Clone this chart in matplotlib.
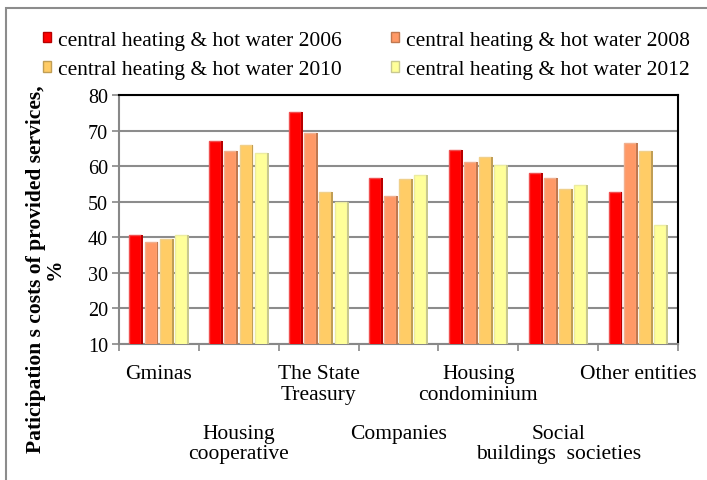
import numpy as np
import matplotlib.pyplot as plt
import matplotlib.transforms as mtransforms
from matplotlib.patches import Patch, Rectangle

plt.rcParams["font.family"] = ["Liberation Serif", "DejaVu Serif"]

categories = ["Gminas", "Housing\ncooperative", "The State\nTreasury", "Companies",
              "Housing\ncondominium", "Social\nbuildings  societies", "Other entities"]
series = ["central heating & hot water 2006", "central heating & hot water 2008",
          "central heating & hot water 2010", "central heating & hot water 2012"]
v2006 = [40.7, 67.0, 75.1, 56.8, 64.5, 58.0, 52.7]
v2008 = [38.6, 64.4, 69.2, 51.5, 61.1, 56.8, 66.4]
v2010 = [39.6, 66.0, 52.6, 56.3, 62.6, 53.5, 64.4]
v2012 = [40.7, 63.6, 49.8, 57.4, 60.3, 54.6, 43.4]
values = [v2006, v2008, v2010, v2012]

face = ["#ff0000", "#ff9966", "#ffcc66", "#ffff99"]
side = ["#b80000", "#c07850", "#c09e55", "#c8c890"]
edge = ["#f05050", "#f0b090", "#f0d08a", "#ececa0"]

fig = plt.figure(figsize=(7.07, 4.81), dpi=100)
ax = fig.add_axes([0.1683, 0.2827, 0.7907, 0.5177])

x = np.arange(len(categories))
slot = 0.19
w = 0.15
for i, vals in enumerate(values):
    pos = x + (i - 1.5) * slot - 0.01
    ax.bar(pos, vals, width=w, color=face[i], edgecolor=edge[i], linewidth=1.0, zorder=3)
    ax.bar(pos + w / 2 + 0.012, vals, width=0.024, color=side[i], linewidth=0, zorder=3)

ax.set_ylim(10, 80)
ax.set_xlim(-0.5, len(categories) - 0.5)
ax.set_yticks(np.arange(10, 81, 10))
ax.tick_params(axis="y", labelsize=14.5, length=5, color="#888888", width=1.2, pad=3)
ax.set_xticks(np.arange(-0.5, len(categories), 1.0))
ax.set_xticklabels([])
ax.tick_params(axis="x", length=5, color="#888888", width=1.2)
ax.grid(axis="y", color="#8c8c8c", linewidth=1.5, zorder=0)
ax.set_axisbelow(True)
for s in ["top", "right"]:
    ax.spines[s].set_color("black")
    ax.spines[s].set_linewidth(1.5)
for s in ["left", "bottom"]:
    ax.spines[s].set_color("#888888")
    ax.spines[s].set_linewidth(1.5)

trans = mtransforms.blended_transform_factory(ax.transData, ax.transAxes)
for i, lab in enumerate(categories):
    yy = -0.08 if i % 2 == 0 else -0.32
    ax.text(i, yy, lab, transform=trans, ha="center", va="top", fontsize=15.5,
            linespacing=1.12, multialignment="center")

fig.text(0.064, 0.44, "Paticipation s costs of provided services,\n%", rotation=90,
         ha="center", va="center", fontsize=15.5, fontweight="bold", multialignment="center",
         linespacing=0.95)

order = [0, 2, 1, 3]
handles = [Patch(facecolor=face[i], edgecolor=side[i]) for i in order]
fig.legend(handles, [series[i] for i in order], loc="upper left", bbox_to_anchor=(0.048, 0.952),
           ncol=2, frameon=False, fontsize=15.5, handlelength=0.4, handleheight=0.4,
           handletextpad=0.3, columnspacing=2.3, labelspacing=0.5, borderaxespad=0)

fig.patches.append(Rectangle((6 / 707, -0.1), 1.2, 1 - 9 / 481 + 0.1, transform=fig.transFigure,
                             fill=False, edgecolor="#8c8c8c", linewidth=1.5))

fig.savefig("out.png", dpi=100)
